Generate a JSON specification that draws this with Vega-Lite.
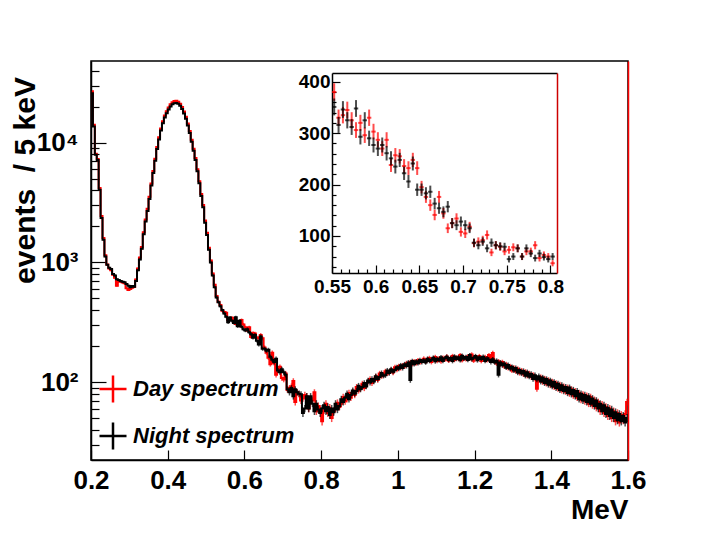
{
"$schema": "https://vega.github.io/schema/vega-lite/v6.json",
"width": 537, "height": 399,
"autosize": {"type": "none"},
"padding": {"left": 91, "top": 61, "right": 81, "bottom": 74},
"background": "white",
"config": {
 "view": {"stroke": "#000", "strokeWidth": 1.5},
 "font": "Liberation Sans",
 "axis": {"grid": false, "labelFont": "Liberation Sans", "labelFontWeight": "bold", "titleFont": "Liberation Sans", "titleFontWeight": "bold", "labelColor": "#000", "titleColor": "#000", "domainColor": "#000", "tickColor": "#000", "tickWidth": 1.2, "domainWidth": 1.5, "labelOverlap": false, "labelFlush": false, "labelBound": false}
},
"datasets": {"h": [
{"E":0.2025,"n":26000,"d":27000},{"E":0.2075,"n":13700,"d":14200},{"E":0.2125,"n":7950,"d":8100},{"E":0.2175,"n":7200,"d":7350},{"E":0.2225,"n":4050,"d":4200},
{"E":0.2275,"n":2360,"d":2450},{"E":0.2325,"n":1550,"d":1600},{"E":0.2375,"n":1120,"d":1150},{"E":0.2425,"n":955,"d":960},{"E":0.2475,"n":905,"d":890},
{"E":0.2525,"n":880,"d":860},{"E":0.2575,"n":800,"d":790},{"E":0.2625,"n":780,"d":745},{"E":0.2675,"n":725,"d":640},{"E":0.2725,"n":712,"d":690},
{"E":0.2775,"n":700,"d":690},{"E":0.2825,"n":690,"d":680},{"E":0.2875,"n":682,"d":670},{"E":0.2925,"n":660,"d":610},{"E":0.2975,"n":640,"d":590},
{"E":0.3025,"n":622,"d":600},{"E":0.3075,"n":635,"d":615},{"E":0.3125,"n":628,"d":625},{"E":0.3175,"n":700,"d":720},{"E":0.3225,"n":860,"d":890},
{"E":0.3275,"n":1060,"d":1100},{"E":0.3325,"n":1300,"d":1350},{"E":0.3375,"n":1720,"d":1790},{"E":0.3425,"n":2200,"d":2290},{"E":0.3475,"n":2700,"d":2810},
{"E":0.3525,"n":3400,"d":3540},{"E":0.3575,"n":4400,"d":4580},{"E":0.3625,"n":5600,"d":5830},{"E":0.3675,"n":7100,"d":7380},{"E":0.3725,"n":8900,"d":9260},
{"E":0.3775,"n":10700,"d":11130},{"E":0.3825,"n":12700,"d":13200},{"E":0.3875,"n":14600,"d":15180},{"E":0.3925,"n":16300,"d":16950},{"E":0.3975,"n":17700,"d":18400},
{"E":0.4025,"n":19000,"d":19760},{"E":0.4075,"n":20200,"d":21000},{"E":0.4125,"n":21000,"d":21840},{"E":0.4175,"n":21500,"d":22360},{"E":0.4225,"n":21600,"d":22460},
{"E":0.4275,"n":21200,"d":22050},{"E":0.4325,"n":20400,"d":21220},{"E":0.4375,"n":19200,"d":19970},{"E":0.4425,"n":17600,"d":18300},{"E":0.4475,"n":15900,"d":16540},
{"E":0.4525,"n":14000,"d":14560},{"E":0.4575,"n":12100,"d":12580},{"E":0.4625,"n":10200,"d":10610},{"E":0.4675,"n":8600,"d":8940},{"E":0.4725,"n":7200,"d":7490},
{"E":0.4775,"n":5800,"d":6030},{"E":0.4825,"n":4600,"d":4780},{"E":0.4875,"n":3600,"d":3740},{"E":0.4925,"n":2900,"d":3020},{"E":0.4975,"n":2150,"d":2240},
{"E":0.5025,"n":1700,"d":1770},{"E":0.5075,"n":1280,"d":1330},{"E":0.5125,"n":1000,"d":1040},{"E":0.5175,"n":780,"d":810},{"E":0.5225,"n":620,"d":650},
{"E":0.5275,"n":510,"d":525},{"E":0.5325,"n":465,"d":470},{"E":0.5375,"n":430,"d":440},{"E":0.5425,"n":400,"d":395},{"E":0.5475,"n":375,"d":385},
{"E":0.5525,"n":351,"d":380},{"E":0.5575,"n":316,"d":330},{"E":0.5625,"n":346,"d":335},{"E":0.5675,"n":325,"d":345},{"E":0.5725,"n":312,"d":325},
{"E":0.5775,"n":348,"d":306},{"E":0.5825,"n":293,"d":320},{"E":0.5875,"n":325,"d":296},{"E":0.5925,"n":290,"d":330},{"E":0.5975,"n":277,"d":303},
{"E":0.6025,"n":270,"d":287},{"E":0.6075,"n":277,"d":270},{"E":0.6125,"n":261,"d":287},{"E":0.6175,"n":251,"d":238},{"E":0.6225,"n":235,"d":257},
{"E":0.6275,"n":248,"d":255},{"E":0.6325,"n":222,"d":236},{"E":0.6375,"n":206,"d":232},{"E":0.6425,"n":241,"d":248},{"E":0.6475,"n":190,"d":232},
{"E":0.6525,"n":190,"d":195},{"E":0.6575,"n":183,"d":176},{"E":0.6625,"n":186,"d":160},{"E":0.6675,"n":163,"d":141},{"E":0.6725,"n":154,"d":176},
{"E":0.6775,"n":147,"d":144},{"E":0.6825,"n":157,"d":115},{"E":0.6875,"n":125,"d":125},{"E":0.6925,"n":121,"d":134},{"E":0.6975,"n":128,"d":108},
{"E":0.7025,"n":121,"d":105},{"E":0.7075,"n":115,"d":118},{"E":0.7125,"n":87,"d":86},{"E":0.7175,"n":82,"d":89},{"E":0.7225,"n":89,"d":92},
{"E":0.7275,"n":76,"d":102},{"E":0.7325,"n":87,"d":68},{"E":0.7375,"n":82,"d":82},{"E":0.7425,"n":80,"d":79},{"E":0.7475,"n":79,"d":70},
{"E":0.7525,"n":55,"d":73},{"E":0.7575,"n":60,"d":78},{"E":0.7625,"n":76,"d":76},{"E":0.7675,"n":60,"d":60},{"E":0.7725,"n":76,"d":70},
{"E":0.7775,"n":66,"d":70},{"E":0.7825,"n":57,"d":82},{"E":0.7875,"n":66,"d":57},{"E":0.7925,"n":59,"d":63},{"E":0.7975,"n":55,"d":60},
{"E":0.8025,"n":60,"d":47},{"E":0.8075,"n":64,"d":58},{"E":0.8125,"n":57,"d":66},{"E":0.8175,"n":62,"d":55},{"E":0.8225,"n":53,"d":61},
{"E":0.8275,"n":60,"d":50},{"E":0.8325,"n":56,"d":57},{"E":0.8375,"n":66,"d":60},{"E":0.8425,"n":59,"d":67},{"E":0.8475,"n":63,"d":62},
{"E":0.8525,"n":72,"d":66},{"E":0.8575,"n":68,"d":75},{"E":0.8625,"n":74,"d":69},{"E":0.8675,"n":80,"d":72},{"E":0.8725,"n":72,"d":81},
{"E":0.8775,"n":78,"d":74},{"E":0.8825,"n":85,"d":83},{"E":0.8875,"n":80,"d":78},{"E":0.8925,"n":84,"d":91},{"E":0.8975,"n":93,"d":85},
{"E":0.9025,"n":87,"d":88},{"E":0.9075,"n":91,"d":97},{"E":0.9125,"n":98,"d":89},{"E":0.9175,"n":92,"d":94},{"E":0.9225,"n":103,"d":101},
{"E":0.9275,"n":99,"d":106},{"E":0.9325,"n":106,"d":98},{"E":0.9375,"n":101,"d":104},{"E":0.9425,"n":112,"d":111},{"E":0.9475,"n":106,"d":104},
{"E":0.9525,"n":110,"d":118},{"E":0.9575,"n":119,"d":112},{"E":0.9625,"n":113,"d":115},{"E":0.9675,"n":114,"d":123},{"E":0.9725,"n":125,"d":118},
{"E":0.9775,"n":119,"d":121},{"E":0.9825,"n":128,"d":126},{"E":0.9875,"n":122,"d":120},{"E":0.9925,"n":126,"d":133},{"E":0.9975,"n":133,"d":127},
{"E":1.0025,"n":129,"d":136},{"E":1.0075,"n":138,"d":131},{"E":1.0125,"n":131,"d":138},{"E":1.0175,"n":141,"d":135},{"E":1.0225,"n":136,"d":144},
{"E":1.0275,"n":146,"d":139},{"E":1.0325,"n":104,"d":147},{"E":1.0375,"n":150,"d":141},{"E":1.0425,"n":141,"d":149},{"E":1.0475,"n":149,"d":143},
{"E":1.0525,"n":144,"d":152},{"E":1.0575,"n":153,"d":146},{"E":1.0625,"n":147,"d":150},{"E":1.0675,"n":152,"d":157},{"E":1.0725,"n":146,"d":148},
{"E":1.0775,"n":157,"d":155},{"E":1.0825,"n":150,"d":159},{"E":1.0875,"n":154,"d":147},{"E":1.0925,"n":160,"d":156},{"E":1.0975,"n":149,"d":162},
{"E":1.1025,"n":157,"d":150},{"E":1.1075,"n":152,"d":158},{"E":1.1125,"n":161,"d":149},{"E":1.1175,"n":150,"d":160},{"E":1.1225,"n":158,"d":154},
{"E":1.1275,"n":163,"d":164},{"E":1.1325,"n":153,"d":151},{"E":1.1375,"n":159,"d":158},{"E":1.1425,"n":150,"d":165},{"E":1.1475,"n":164,"d":153},
{"E":1.1525,"n":156,"d":161},{"E":1.1575,"n":161,"d":156},{"E":1.1625,"n":152,"d":168},{"E":1.1675,"n":166,"d":152},{"E":1.1725,"n":157,"d":160},
{"E":1.1775,"n":162,"d":155},{"E":1.1825,"n":153,"d":164},{"E":1.1875,"n":168,"d":157},{"E":1.1925,"n":155,"d":170},{"E":1.1975,"n":160,"d":151},
{"E":1.2025,"n":165,"d":162},{"E":1.2075,"n":152,"d":156},{"E":1.2125,"n":161,"d":165},{"E":1.2175,"n":156,"d":150},{"E":1.2225,"n":163,"d":158},
{"E":1.2275,"n":150,"d":162},{"E":1.2325,"n":158,"d":152},{"E":1.2375,"n":154,"d":168},{"E":1.2425,"n":147,"d":155},{"E":1.2475,"n":155,"d":175},
{"E":1.2525,"n":146,"d":150},{"E":1.2575,"n":151,"d":143},{"E":1.2625,"n":115,"d":149},{"E":1.2675,"n":146,"d":140},{"E":1.2725,"n":138,"d":147},
{"E":1.2775,"n":143,"d":135},{"E":1.2825,"n":132,"d":141},{"E":1.2875,"n":139,"d":131},{"E":1.2925,"n":129,"d":136},{"E":1.2975,"n":134,"d":125},
{"E":1.3025,"n":125,"d":132},{"E":1.3075,"n":131,"d":123},{"E":1.3125,"n":120,"d":129},{"E":1.3175,"n":126,"d":119},{"E":1.3225,"n":118,"d":125},
{"E":1.3275,"n":124,"d":116},{"E":1.3325,"n":113,"d":122},{"E":1.3375,"n":121,"d":113},{"E":1.3425,"n":111,"d":118},{"E":1.3475,"n":117,"d":110},
{"E":1.3525,"n":106,"d":115},{"E":1.3575,"n":114,"d":107},{"E":1.3625,"n":105,"d":88},{"E":1.3675,"n":112,"d":104},{"E":1.3725,"n":101,"d":110},
{"E":1.3775,"n":109,"d":100},{"E":1.3825,"n":98,"d":107},{"E":1.3875,"n":106,"d":97},{"E":1.3925,"n":95,"d":104},{"E":1.3975,"n":103,"d":94},
{"E":1.4025,"n":92,"d":101},{"E":1.4075,"n":100,"d":91},{"E":1.4125,"n":89,"d":98},{"E":1.4175,"n":97,"d":88},{"E":1.4225,"n":86,"d":95},
{"E":1.4275,"n":94,"d":85},{"E":1.4325,"n":84,"d":92},{"E":1.4375,"n":91,"d":83},{"E":1.4425,"n":81,"d":90},{"E":1.4475,"n":90,"d":80},
{"E":1.4525,"n":79,"d":87},{"E":1.4575,"n":86,"d":77},{"E":1.4625,"n":76,"d":84},{"E":1.4675,"n":84,"d":74},{"E":1.4725,"n":72,"d":81},
{"E":1.4775,"n":80,"d":71},{"E":1.4825,"n":70,"d":79},{"E":1.4875,"n":78,"d":69},{"E":1.4925,"n":68,"d":77},{"E":1.4975,"n":76,"d":66},
{"E":1.5025,"n":66,"d":75},{"E":1.5075,"n":73,"d":64},{"E":1.5125,"n":63,"d":71},{"E":1.5175,"n":70,"d":61},{"E":1.5225,"n":60,"d":68},
{"E":1.5275,"n":66,"d":57},{"E":1.5325,"n":57,"d":65},{"E":1.5375,"n":64,"d":55},{"E":1.5425,"n":54,"d":62},{"E":1.5475,"n":61,"d":52},
{"E":1.5525,"n":52,"d":60},{"E":1.5575,"n":59,"d":50},{"E":1.5625,"n":50,"d":57},{"E":1.5675,"n":56,"d":47},{"E":1.5725,"n":48,"d":55},
{"E":1.5775,"n":54,"d":46},{"E":1.5825,"n":47,"d":53},{"E":1.5875,"n":52,"d":48},{"E":1.5925,"n":46,"d":54},{"E":1.5975,"n":50,"d":68}
]},
"data": {"name": "h"},
"resolve": {"scale": {"x": "independent", "y": "independent", "size": "independent"}},
"layer": [
 {
  "layer": [
   {"mark": {"type": "line", "interpolate": "step", "strokeWidth": 2},
    "encoding": {
     "x": {"field": "E", "type": "quantitative", "scale": {"domain": [0.2, 1.6], "nice": false, "zero": false},
      "axis": {"orient": "bottom", "values": [0.2,0.25,0.3,0.35,0.4,0.45,0.5,0.55,0.6,0.65,0.7,0.75,0.8,0.85,0.9,0.95,1,1.05,1.1,1.15,1.2,1.25,1.3,1.35,1.4,1.45,1.5,1.55,1.6],
       "format": "~g",
       "labelExpr": "abs(datum.value*5 - round(datum.value*5)) < 0.000001 ? datum.label : ''",
       "tickSize": {"condition": {"test": "abs(datum.value*5 - round(datum.value*5)) < 0.000001", "value": -10}, "value": -5},
       "labelPadding": 17, "labelFontSize": 26, "labelBaseline": "top",
       "title": "MeV", "titleFontSize": 28, "titleX": 537, "titleY": 58, "titleAlign": "right", "titleBaseline": "alphabetic"}},
     "y": {"field": "d", "type": "quantitative", "scale": {"type": "log", "domain": [22.3, 48400], "nice": false},
      "axis": {"orient": "left", "values": [30,40,50,60,70,80,90,100,200,300,400,500,600,700,800,900,1000,2000,3000,4000,5000,6000,7000,8000,9000,10000,20000,30000,40000],
       "labelExpr": "datum.value == 100 ? '10²' : datum.value == 1000 ? '10³' : datum.value == 10000 ? '10⁴' : ''",
       "tickSize": {"condition": {"test": "datum.value == 100 || datum.value == 1000 || datum.value == 10000", "value": -15}, "value": -8},
       "labelPadding": 28, "labelFontSize": 26, "labelBaseline": "middle",
       "title": "events\u00a0\u00a0/\u00a05 keV", "titleFontSize": 30, "titleX": -66, "titleY": 119, "titleAngle": -90, "titleAlign": "center", "titleBaseline": "middle"}},
     "color": {"datum": "Day spectrum", "scale": {"domain": ["Day spectrum", "Night spectrum"], "range": ["#ff0000", "#000000"]},
      "legend": {"title": null, "orient": "none", "legendX": 7, "legendY": 313, "symbolType": "M-1,0H1M0,-1V1", "symbolSize": 729, "symbolStrokeWidth": 2.5, "labelFont": "Liberation Sans", "labelFontSize": 22, "labelFontStyle": "italic", "labelFontWeight": "bold", "labelColor": "#000", "labelOffset": 5, "rowPadding": 9, "padding": 0, "labelLimit": 400}}
    }},
   {"mark": {"type": "tick", "orient": "vertical", "thickness": 1.5, "color": "#ff0000"},
    "encoding": {
     "x": {"field": "E", "type": "quantitative"},
     "y": {"field": "d", "type": "quantitative"},
     "size": {"field": "d", "type": "quantitative", "scale": {"type": "pow", "exponent": -0.5, "domain": [50, 30000], "range": [8, 0.33]}, "legend": null}
    }},
   {"mark": {"type": "line", "interpolate": "step", "strokeWidth": 2},
    "encoding": {
     "x": {"field": "E", "type": "quantitative"},
     "y": {"field": "n", "type": "quantitative"},
     "color": {"datum": "Night spectrum"}
    }}
  ]
 },
 {
  "transform": [{"filter": "datum.E > 0.55 && datum.E < 0.8075"}],
  "layer": [
   {"mark": {"type": "tick", "orient": "horizontal", "thickness": 2, "size": 4.4, "color": "#ff0000"},
    "encoding": {
     "x": {"field": "E", "type": "quantitative", "scale": {"domain": [0.55, 0.8075], "range": [241, 466], "nice": false, "zero": false},
      "axis": {"orient": "top", "offset": -12, "labels": false, "ticks": false, "title": null, "domainColor": "#000"}},
     "y": {"field": "d", "type": "quantitative", "scale": {"domain": [28, 417], "range": [212, 12], "nice": false, "zero": false},
      "axis": {"orient": "right", "offset": -71, "labels": false, "ticks": false, "title": null, "domainColor": "#cc0000"}}
    }},
   {"mark": {"type": "tick", "orient": "vertical", "thickness": 2, "color": "#ff0000"},
    "encoding": {
     "x": {"field": "E", "type": "quantitative", "axis": null},
     "y": {"field": "d", "type": "quantitative", "axis": null},
     "size": {"field": "d", "type": "quantitative", "scale": {"type": "sqrt", "domain": [0, 400], "range": [0, 18]}, "legend": null}
    }},
   {"mark": {"type": "tick", "orient": "horizontal", "thickness": 2, "size": 4.4, "color": "#000000"},
    "encoding": {
     "x": {"field": "E", "type": "quantitative", "axis": null},
     "y": {"field": "n", "type": "quantitative", "axis": null}
    }},
   {"mark": {"type": "tick", "orient": "vertical", "thickness": 2, "color": "#000000"},
    "encoding": {
     "x": {"field": "E", "type": "quantitative",
      "axis": {"orient": "bottom", "offset": -187, "values": [0.55,0.56,0.57,0.58,0.59,0.6,0.61,0.62,0.63,0.64,0.65,0.66,0.67,0.68,0.69,0.7,0.71,0.72,0.73,0.74,0.75,0.76,0.77,0.78,0.79,0.8],
       "format": "~g",
       "labelExpr": "abs(datum.value*20 - round(datum.value*20)) < 0.000001 ? datum.label : ''",
       "tickSize": {"condition": {"test": "abs(datum.value*20 - round(datum.value*20)) < 0.000001", "value": -8}, "value": -4},
       "labelPadding": 12, "labelFontSize": 19, "labelBaseline": "top", "title": null}},
     "y": {"field": "n", "type": "quantitative",
      "axis": {"orient": "left", "offset": -241, "values": [40,60,80,100,120,140,160,180,200,220,240,260,280,300,320,340,360,380,400],
       "labelExpr": "datum.value % 100 == 0 ? datum.label : ''",
       "tickSize": {"condition": {"test": "datum.value % 100 == 0", "value": -8}, "value": -4},
       "labelPadding": 10, "labelFontSize": 19, "labelBaseline": "middle", "title": null}},
     "size": {"field": "n", "type": "quantitative", "legend": null}
    }}
  ]
 },
 {"mark": {"type": "tick", "orient": "vertical", "thickness": 1.5, "color": "#000000"},
  "encoding": {
   "x": {"field": "E", "type": "quantitative", "scale": {"domain": [0.2, 1.6], "nice": false, "zero": false}, "axis": null},
   "y": {"field": "n", "type": "quantitative", "scale": {"type": "log", "domain": [22.3, 48400], "nice": false},
    "axis": {"orient": "right", "labels": false, "ticks": false, "title": null, "domainColor": "#ff0000", "domainWidth": 1.5}},
   "size": {"field": "n", "type": "quantitative", "scale": {"type": "pow", "exponent": -0.5, "domain": [50, 30000], "range": [8, 0.33]}, "legend": null}
  }}
]
}
